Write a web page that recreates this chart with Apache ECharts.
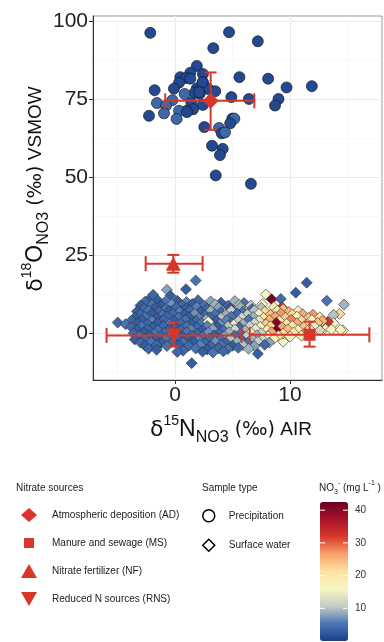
<!DOCTYPE html>
<html>
<head>
<meta charset="utf-8">
<script src="https://cdn.jsdelivr.net/npm/echarts@6/dist/echarts.min.js"></script>
<style>
  html, body { margin: 0; padding: 0; background: #fff; }
  #chart { width: 384px; height: 642px; }
</style>
</head>
<body>
<div id="chart"></div>
<script>
const FONT = 'Liberation Sans, Arial, sans-serif'
const RED = '#d7372a'

// axis ticks
const xTicks = [0, 10]
const xMinor = [-5, 5, 15]
const yTicks = [0, 25, 50, 75, 100]
const yMinor = [-12.5, 12.5, 37.5, 62.5, 87.5]
const colorTicks = [10, 20, 30, 40]
const colorMax = 42.5

// [d15N, d18O, NO3]
const precipitation = [
  [-2.15, 96.2, 1], [4.7, 96.4, 1], [7.2, 93.5, 1], [3.33, 91.3, 1], [1.9, 85.6, 1],
  [1.33, 83.4, 1], [2.43, 83, 1], [0.46, 82, 1], [0.96, 81.7, 1], [1.33, 81.5, 1],
  [5.6, 82, 1], [8.1, 81.5, 1], [0.35, 80.2, 1], [2.43, 80.3, 1], [9.7, 78.7, 1],
  [11.9, 79.1, 1], [-0.09, 78.3, 1], [-1.77, 77.8, 1], [1.9, 78.4, 1], [2.29, 78.3, 1],
  [2.9, 78.2, 1], [3.5, 77.5, 1], [1.71, 77, 1], [2.14, 76.6, 1], [0.84, 76.6, 4],
  [4.9, 75.6, 1], [6.43, 75, 1], [9.0, 75, 1], [-0.23, 74.6, 4], [-1.57, 73.7, 4],
  [1.42, 73.8, 1], [2.43, 73.1, 1], [8.7, 72.9, 1], [-0.78, 72.9, 4], [1.57, 71.7, 1],
  [1.0, 71.2, 4], [0.35, 71.2, 4], [1.04, 70.8, 1], [-0.96, 70.4, 4], [-2.26, 69.6, 1],
  [0.14, 68.6, 4], [4.98, 68.7, 1], [5.16, 68.7, 4], [4.8, 67.2, 1], [2.55, 66, 1],
  [3.83, 65.7, 4], [4.06, 64, 1], [4.35, 64.3, 4], [3.22, 60, 1], [4.15, 59, 1],
  [3.91, 57, 1], [3.54, 50.5, 1], [6.6, 47.8, 1], [2.4, 80.4, 1], [2.1, 77.2, 1]
]

const surfaceWater = [
  [-0.7, 13.8, 8], [0.95, 14, 3], [1.8, 16.8, 5], [-1.9, 12.2, 4], [-0.4, 11.9, 3], [-2.35, 10.3, 3],
  [-4.98, 3.3, 4], [1.45, -9.7, 3], [7.2, -6.7, 3], [11.45, 16.1, 3], [10.5, 12.9, 3], [7.9, 12.3, 16],
  [8.4, 10.8, 41], [9.2, 10.9, 4], [13.2, 10.3, 5], [14.7, 9.1, 9], [14.3, 6.1, 22], [13.8, 5.8, 10],
  [14.6, 0.8, 16], [13.8, 3.1, 17], [13.3, 3.6, 33], [12.0, 5.8, 27], [9.3, 8.2, 33], [9.4, -2.8, 16],
  [6.2, 8.7, 16], [4.2, 7.4, 16], [13.0, 1.5, 15], [12.6, 2.9, 23],
  [-2.6, 10.0, 4], [-1.5, 10.4, 3], [-0.9, 9.8, 5], [0.2, 10.3, 3], [1.0, 9.9, 6], [2.0, 10.5, 4],
  [3.1, 10.1, 8], [4.0, 9.7, 3], [5.2, 10.2, 9], [6.0, 9.6, 5],
  [-3.0, 8.8, 3], [-2.0, 9.1, 5], [-1.2, 8.7, 3], [-0.3, 9.2, 7], [0.6, 8.9, 4], [1.5, 9.3, 3],
  [2.5, 8.8, 5], [3.5, 9.1, 9], [4.6, 8.7, 4], [5.6, 9.0, 10], [6.6, 8.8, 11], [7.6, 9.2, 17],
  [-2.7, 7.8, 4], [-1.7, 8.1, 3], [-0.8, 7.7, 5], [0.1, 8.2, 4], [1.0, 7.9, 3], [1.9, 8.3, 6],
  [2.8, 7.7, 4], [3.8, 8.1, 8], [4.8, 7.8, 3], [5.7, 8.2, 9], [6.7, 7.7, 4], [7.5, 8.0, 10],
  [8.6, 8.3, 19], [9.4, 7.6, 24],
  [-3.3, 6.9, 3], [-2.3, 7.2, 5], [-1.4, 6.8, 4], [-0.5, 7.1, 3], [0.4, 6.7, 6], [1.3, 7.2, 4],
  [2.2, 6.8, 3], [3.1, 7.0, 9], [4.0, 6.6, 4], [4.9, 7.1, 11], [5.9, 6.8, 5], [6.9, 7.2, 10],
  [7.8, 6.8, 22], [8.9, 7.1, 20], [9.9, 6.7, 25], [10.7, 7.0, 18],
  [-3.0, 5.9, 4], [-2.0, 6.1, 3], [-1.1, 5.8, 5], [-0.2, 6.2, 4], [0.8, 5.9, 3], [1.7, 6.1, 7],
  [2.6, 5.7, 4], [3.5, 6.0, 5], [4.4, 5.8, 9], [5.4, 6.2, 4], [6.3, 5.9, 11], [7.3, 6.1, 15],
  [8.3, 5.8, 24], [9.2, 6.2, 27], [10.2, 5.9, 22], [11.1, 6.0, 26],
  [-3.5, 4.9, 3], [-2.6, 5.1, 5], [-1.6, 4.8, 3], [-0.7, 5.2, 4], [0.3, 4.9, 5], [1.2, 5.1, 3],
  [2.1, 4.8, 6], [3.0, 5.0, 4], [4.0, 4.8, 10], [4.9, 5.2, 5], [5.8, 4.9, 12], [6.8, 5.1, 9],
  [7.7, 4.8, 20], [8.7, 5.1, 26], [9.6, 4.9, 23], [10.6, 5.2, 17], [11.6, 4.8, 24], [12.6, 5.0, 21],
  [-3.8, 3.9, 4], [-2.9, 4.1, 3], [-2.0, 3.8, 6], [-1.0, 4.2, 4], [-0.1, 3.9, 3], [0.9, 4.1, 5],
  [1.8, 3.8, 4], [2.7, 4.2, 9], [3.6, 3.9, 3], [4.5, 4.1, 6], [5.5, 3.8, 11], [6.4, 4.2, 5],
  [7.3, 3.9, 14], [8.2, 4.1, 25], [9.1, 3.8, 19], [10.1, 4.2, 28], [11.0, 3.9, 22], [11.9, 4.1, 16],
  [12.8, 3.8, 25],
  [-4.3, 2.8, 5], [-3.3, 3.1, 3], [-2.4, 2.9, 4], [-1.5, 3.2, 3], [-0.5, 2.8, 6], [0.5, 3.1, 4],
  [1.4, 2.9, 3], [2.3, 3.2, 5], [2.9, 3.6, 16], [3.9, 2.8, 7], [4.9, 3.1, 4], [5.1, 2.6, 15],
  [5.9, 2.9, 9], [6.9, 3.2, 12], [7.9, 2.8, 23], [8.8, 3.2, 40], [9.7, 2.9, 21], [10.6, 3.1, 26],
  [11.5, 2.8, 18], [12.4, 3.2, 24],
  [-3.8, 1.9, 4], [-2.9, 2.1, 5], [-1.9, 1.8, 3], [-1.0, 2.2, 4], [0.0, 1.9, 3], [1.0, 2.1, 5],
  [1.9, 1.8, 4], [2.8, 2.2, 6], [3.7, 1.9, 3], [4.6, 2.1, 10], [5.6, 1.8, 4], [6.5, 2.2, 11],
  [7.4, 1.9, 16], [8.3, 2.1, 22], [9.3, 1.8, 26], [10.2, 2.2, 20], [11.2, 1.9, 24], [12.1, 2.1, 15],
  [-3.3, 0.9, 3], [-2.4, 1.1, 4], [-1.5, 0.8, 5], [-0.5, 1.2, 3], [0.5, 0.9, 4], [1.4, 1.1, 6],
  [2.4, 0.8, 3], [3.3, 1.2, 8], [4.2, 0.9, 5], [5.2, 1.1, 12], [6.1, 0.8, 9], [7.0, 1.2, 14],
  [8.0, 0.9, 19], [8.8, 0.8, 41], [9.8, 1.1, 24], [10.7, 0.9, 17], [11.7, 1.2, 21], [12.6, 0.8, 12],
  [13.6, 1.1, 16], [14.4, 1.0, 17],
  [-3.6, -0.1, 4], [-2.7, 0.2, 3], [-1.8, -0.2, 5], [-0.9, 0.1, 4], [0.1, -0.1, 3], [1.0, 0.2, 5],
  [1.9, -0.2, 4], [2.9, 0.1, 7], [3.8, -0.1, 4], [4.7, 0.2, 9], [5.7, -0.2, 5], [6.6, 0.1, 19],
  [7.5, -0.1, 11], [8.4, 0.2, 26], [9.4, -0.2, 22], [10.3, 0.1, 20], [11.3, -0.1, 25],
  [-3.1, -1.1, 5], [-2.2, -0.9, 3], [-1.3, -1.2, 4], [-0.4, -0.8, 6], [0.6, -1.1, 3], [1.5, -0.9, 4],
  [2.4, -1.2, 5], [3.4, -0.8, 3], [4.3, -1.1, 8], [5.2, -0.9, 4], [6.2, -1.2, 11], [7.1, -0.8, 9],
  [8.1, -1.1, 18], [9.0, -0.9, 21], [10.0, -1.2, 15], [11.0, -0.9, 19],
  [-3.5, -2.1, 3], [-2.6, -1.9, 4], [-1.7, -2.2, 3], [-0.8, -1.8, 5], [0.2, -2.1, 4], [1.1, -1.9, 3],
  [2.0, -2.2, 6], [3.0, -1.8, 4], [3.9, -2.1, 5], [4.8, -1.9, 10], [5.8, -2.2, 4], [6.7, -1.8, 9],
  [7.6, -2.1, 12], [8.6, -1.9, 17],
  [-3.0, -3.1, 4], [-2.1, -2.9, 5], [-1.2, -3.2, 3], [-0.2, -2.8, 4], [0.7, -3.1, 5], [1.6, -2.9, 3],
  [2.6, -3.2, 4], [3.5, -2.8, 7], [4.4, -3.1, 4], [5.4, -2.9, 9], [6.3, -3.2, 5], [7.2, -2.8, 11],
  [8.2, -3.1, 8],
  [-2.6, -4.1, 3], [-1.6, -3.9, 4], [-0.7, -4.2, 5], [0.3, -3.8, 3], [1.2, -4.1, 4], [2.2, -3.9, 6],
  [3.1, -4.2, 4], [4.0, -3.8, 5], [5.0, -4.1, 3], [5.9, -3.9, 10], [6.9, -4.2, 8], [7.8, -3.8, 4],
  [-2.3, -5.1, 4], [-1.6, -5.4, 3], [0.7, -5.7, 4], [1.8, -5.0, 5], [2.8, -5.3, 3], [3.8, -4.9, 4],
  [4.6, -5.2, 5], [5.5, -4.8, 4], [6.4, -5.1, 9],
  [0.2, -6.1, 4], [2.4, -6.0, 3], [3.3, -6.3, 5], [4.2, -5.9, 4]
]

// nitrate sources: mean and range
const sourceNames = ['Atmospheric deposition (AD)', 'Manure and sewage (MS)', 'Nitrate fertilizer (NF)', 'Reduced N sources (RNS)']
const sourceN = [3.1, 11.7, -0.15, -0.1]
const sourceO = [74.4, -0.6, 22.2, -0.8]
const sourceNRange = [[-0.85, 6.9], [6.5, 16.9], [-2.55, 2.4], [-5.95, 5.8]]
const sourceORange = [[65.1, 83.5], [-4.4, 3.6], [19.3, 25], [-4.4, 3.4]]
const sourceSymbols = ['diamond', 'rect', 'triangle', 'path://M0,0L10,0L5,9Z']
const sourceSizes = [16, 12, [15, 14], [15, 14]]

const chart = echarts.init(document.getElementById('chart'))

const errorData = sourceNames.map((n, i) => [
  sourceN[i], sourceO[i], sourceNRange[i][0], sourceNRange[i][1], sourceORange[i][0], sourceORange[i][1]
])

function renderErrorBar(params, api) {
  const x = api.value(0)
  const y = api.value(1)
  const l = api.coord([api.value(2), y])
  const r = api.coord([api.value(3), y])
  const b = api.coord([x, api.value(4)])
  const t = api.coord([x, api.value(5)])
  const cap = 7.5
  const style = { stroke: RED, lineWidth: 2, fill: null }
  const line = (x1, y1, x2, y2) => ({ type: 'line', shape: { x1, y1, x2, y2 }, style })
  return {
    type: 'group',
    children: [
      line(l[0], l[1], r[0], r[1]),
      line(l[0], l[1] - cap, l[0], l[1] + cap),
      line(r[0], r[1] - cap, r[0], r[1] + cap),
      line(b[0], b[1], t[0], t[1]),
      line(b[0] - 6, b[1], b[0] + 6, b[1]),
      line(t[0] - 6, t[1], t[0] + 6, t[1]),
    ],
  }
}

const barTop = 502
const barH = 139
const colorGraphics = []
colorTicks.forEach((v) => {
  const y = barTop + (1 - v / colorMax) * barH
  colorGraphics.push({
    type: 'text', x: 355, y,
    style: { text: String(v), font: '10px ' + FONT, fill: '#333', align: 'left', verticalAlign: 'middle' },
  })
  colorGraphics.push({ type: 'line', shape: { x1: 320, y1: y, x2: 325, y2: y }, style: { stroke: '#fff', lineWidth: 1 }, z: 100 })
  colorGraphics.push({ type: 'line', shape: { x1: 343, y1: y, x2: 348, y2: y }, style: { stroke: '#fff', lineWidth: 1 }, z: 100 })
})

const WIDE = 'DejaVu Sans, sans-serif'
const titleRich = {
  d: { fontSize: 22, fontFamily: WIDE, lineHeight: 32, verticalAlign: 'middle' },
  L: { fontSize: 23, fontFamily: FONT, lineHeight: 32, verticalAlign: 'middle' },
  m: { fontSize: 19, fontFamily: FONT, lineHeight: 32, verticalAlign: 'middle' },
  pm: { fontSize: 19, fontFamily: WIDE, lineHeight: 32, verticalAlign: 'middle' },
  sp: { fontSize: 14, fontFamily: FONT, lineHeight: 16, verticalAlign: 'top' },
  sb: { fontSize: 16, fontFamily: FONT, lineHeight: 14, verticalAlign: 'bottom' },
}

chart.setOption({
  animation: false,
  backgroundColor: '#fff',
  grid: { left: 93, top: 16, width: 289, height: 364, show: true, borderColor: '#999', borderWidth: 1 },
  xAxis: [
    {
      type: 'value', min: -7.13, max: 18,
      axisLine: { show: true, onZero: false, lineStyle: { color: '#333', width: 1 } },
      axisTick: { show: true, length: 4, customValues: xTicks, lineStyle: { color: '#333' } },
      axisLabel: { customValues: xTicks, fontSize: 21, color: '#222', margin: 5, fontFamily: FONT },
      splitLine: { show: true, lineStyle: { color: '#ebebeb', width: 1 } },
    },
    {
      type: 'value', min: -7.13, max: 18,
      axisLine: { show: false },
      axisTick: { show: false, customValues: xMinor },
      axisLabel: { show: false, customValues: xMinor },
      splitLine: { show: true, lineStyle: { color: '#f3f3f3', width: 0.6 } },
    },
  ],
  yAxis: [
    {
      type: 'value', min: -15.1, max: 101.6,
      axisLine: { show: true, onZero: false, lineStyle: { color: '#333', width: 1 } },
      axisTick: { show: true, length: 4, customValues: yTicks, lineStyle: { color: '#333' } },
      axisLabel: { customValues: yTicks, fontSize: 21, color: '#222', margin: 5, fontFamily: FONT },
      splitLine: { show: true, lineStyle: { color: '#ebebeb', width: 1 } },
    },
    {
      type: 'value', min: -15.1, max: 101.6, position: 'left',
      axisLine: { show: false },
      axisTick: { show: false, customValues: yMinor },
      axisLabel: { show: false, customValues: yMinor },
      splitLine: { show: true, lineStyle: { color: '#f3f3f3', width: 0.6 } },
    },
  ],
  visualMap: {
    type: 'continuous',
    min: 0, max: colorMax,
    dimension: 2,
    seriesIndex: [0, 1],
    calculable: false,
    orient: 'vertical',
    left: 320, top: barTop,
    itemWidth: 28, itemHeight: barH,
    padding: 0,
    inRange: {
      color: ['#1a3f8a', '#4a76b5', '#c4ccc4', '#f8f6c4', '#fde2a0', '#f7a26c', '#d9382b', '#a8122b', '#6a0022'],
    },
  },
  legend: [
    {
      orient: 'vertical', left: 21, top: 508, padding: 0, itemGap: 14,
      itemWidth: 16, itemHeight: 14, selectedMode: false,
      textStyle: { fontSize: 10, color: '#222', fontFamily: FONT, padding: [0, 0, 0, 10] },
      data: [
        { name: sourceNames[0], icon: 'diamond' },
        { name: sourceNames[1], icon: 'path://M0,0M16,14M3,2L13,2L13,12L3,12Z' },
        { name: sourceNames[2], icon: 'triangle' },
        { name: sourceNames[3], icon: 'path://M0,0L16,0L8,14Z' },
      ],
    },
    {
      orient: 'vertical', left: 202, top: 509, padding: 0, itemGap: 16,
      itemWidth: 12, itemHeight: 12, selectedMode: false,
      textStyle: { fontSize: 10, color: '#222', fontFamily: FONT, padding: [0, 0, 0, 9] },
      data: [
        { name: 'Precipitation', icon: 'circle', itemStyle: { color: '#fff', borderColor: '#000', borderWidth: 1.5 } },
        { name: 'Surface water', icon: 'diamond', itemStyle: { color: '#fff', borderColor: '#000', borderWidth: 1.5 } },
      ],
    },
  ],
  graphic: [
    {
      type: 'text', x: 36, y: 189, rotation: Math.PI / 2,
      style: {
        text: '{d|δ}{sp|18}{L|O}{sb|NO3}{pm| (‰)}{m| VSMOW}',
        rich: titleRich, fill: '#111', align: 'center', verticalAlign: 'middle',
      },
    },
    {
      type: 'text', x: 231, y: 430,
      style: {
        text: '{d|δ}{sp|15}{L|N}{sb|NO3}{pm| (‰)}{m| AIR}',
        rich: titleRich, fill: '#111', align: 'center', verticalAlign: 'middle',
      },
    },
    { type: 'text', x: 16, y: 488, style: { text: 'Nitrate sources', font: '10px ' + FONT, fill: '#222', verticalAlign: 'middle' } },
    { type: 'text', x: 202, y: 488, style: { text: 'Sample type', font: '10px ' + FONT, fill: '#222', verticalAlign: 'middle' } },
    {
      type: 'text', x: 319, y: 488,
      style: {
        text: '{a|NO}{b|3}{c|-}{a| (mg L}{c|-1}{a| )}',
        rich: {
          a: { fontSize: 10, fontFamily: FONT, lineHeight: 16, verticalAlign: 'middle' },
          b: { fontSize: 7, fontFamily: FONT, lineHeight: 8, verticalAlign: 'bottom' },
          c: { fontSize: 7, fontFamily: FONT, lineHeight: 8, verticalAlign: 'top' },
        },
        fill: '#222', verticalAlign: 'middle',
      },
    },
    ...colorGraphics,
  ],
  series: [
    {
      name: 'Surface water', type: 'scatter', data: surfaceWater,
      symbol: 'diamond', symbolSize: 11,
      itemStyle: { borderColor: '#2b2b2b', borderWidth: 0.6, opacity: 1 },
      z: 2,
    },
    {
      name: 'Precipitation', type: 'scatter', data: precipitation,
      symbol: 'circle', symbolSize: 11,
      itemStyle: { borderColor: '#1a1a1a', borderWidth: 0.7, opacity: 1 },
      z: 3,
    },
    {
      name: 'errorbars', type: 'custom', data: errorData,
      renderItem: renderErrorBar, z: 4, silent: true,
    },
    ...sourceNames.map((name, i) => ({
      name, type: 'scatter', data: [[sourceN[i], sourceO[i]]],
      symbol: sourceSymbols[i], symbolSize: sourceSizes[i],
      itemStyle: { color: RED, opacity: 1 }, z: 5,
    })),
  ],
})
</script>
</body>
</html>
